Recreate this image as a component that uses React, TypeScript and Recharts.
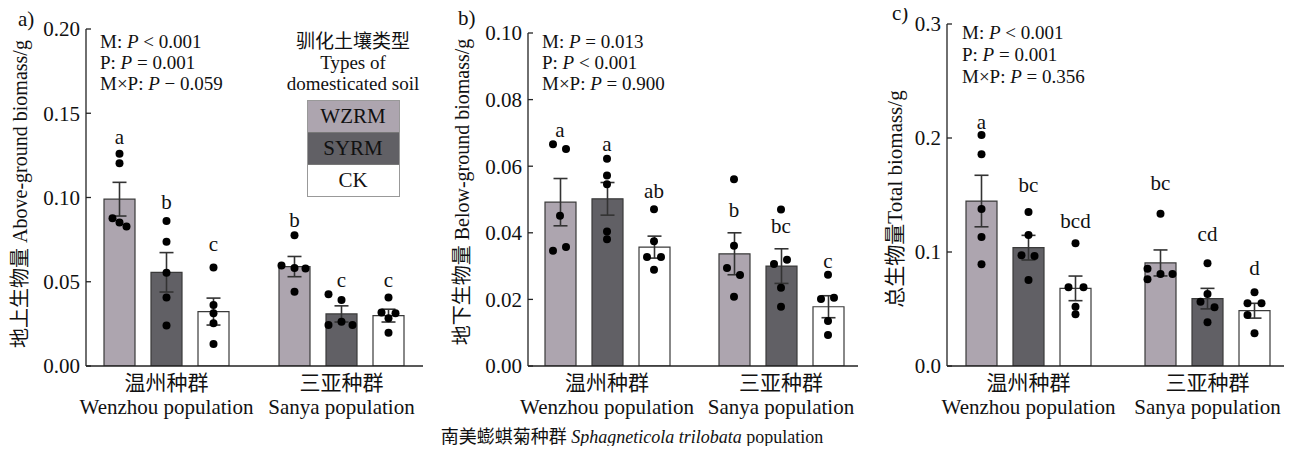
import React from "react";
import { ComposedChart, Bar, Scatter, ErrorBar, XAxis, YAxis } from "recharts";

const FONT = '"Liberation Serif", "Times New Roman", "Noto Sans CJK SC", serif';
const FS = 21;
const NOTE_FS = 19;

const POPULATIONS = ["温州种群", "三亚种群"];
const POPULATIONS_EN = ["Wenzhou population", "Sanya population"];
const SOILS = ["WZRM", "SYRM", "CK"];
const SOIL_COLORS = ["#ada5af", "#616065", "#ffffff"];

// a) above-ground biomass (g); rows = population, cols = WZRM, SYRM, CK
const aboveTicks = [0, 0.05, 0.1, 0.15, 0.2];
const aboveMean = [[0.099, 0.0556, 0.0323], [0.059, 0.0309, 0.0299]];
const aboveSE = [[0.01, 0.0117, 0.008], [0.006, 0.0048, 0.0038]];
const aboveDots = [
  [[0.1259, 0.1204, 0.0877, 0.0851, 0.0828], [0.0861, 0.0737, 0.0554, 0.0406, 0.024], [0.0584, 0.0362, 0.0313, 0.0253, 0.0131]],
  [[0.0776, 0.0596, 0.0582, 0.0578, 0.044], [0.0426, 0.0392, 0.0263, 0.0244, 0.0244], [0.0406, 0.0317, 0.0313, 0.0283, 0.0198]],
];
const aboveLetters = [["a", "b", "c"], ["b", "c", "c"]];
const aboveLetterAt = [[0.136, 0.0976, 0.0725], [0.0867, 0.0511, 0.0511]];

// b) below-ground biomass (g)
const belowTicks = [0, 0.02, 0.04, 0.06, 0.08, 0.1];
const belowMean = [[0.0492, 0.0502, 0.0357], [0.0337, 0.03, 0.0178]];
const belowSE = [[0.0071, 0.0049, 0.0033], [0.0063, 0.0052, 0.0033]];
const belowDots = [
  [[0.0666, 0.0652, 0.0451, 0.0357, 0.0346], [0.0622, 0.0572, 0.0546, 0.0404, 0.0381], [0.0471, 0.0375, 0.0327, 0.0327, 0.0289]],
  [[0.0561, 0.0361, 0.0294, 0.0273, 0.0208], [0.047, 0.0319, 0.0306, 0.0235, 0.0178], [0.0274, 0.0205, 0.0201, 0.0135, 0.0093]],
];
const belowLetters = [["a", "a", "ab"], ["b", "bc", "c"]];
const belowLetterAt = [[0.0709, 0.0666, 0.0527], [0.0467, 0.0419, 0.0314]];

// c) total biomass (g)
const totalTicks = [0, 0.1, 0.2, 0.3];
const totalMean = [[0.1447, 0.1038, 0.0681], [0.0904, 0.0591, 0.0485]];
const totalSE = [[0.0226, 0.0108, 0.0108], [0.0114, 0.009, 0.0065]];
const totalDots = [
  [[0.2026, 0.1857, 0.1377, 0.1132, 0.0892], [0.1351, 0.1149, 0.0971, 0.0965, 0.0754], [0.1076, 0.069, 0.069, 0.052, 0.0453]],
  [[0.1336, 0.0854, 0.0807, 0.0807, 0.076], [0.0901, 0.0632, 0.0564, 0.0515, 0.0383], [0.0646, 0.055, 0.055, 0.0447, 0.0287]],
];
const totalLetters = [["a", "bc", "bcd"], ["bc", "cd", "d"]];
const totalLetterAt = [[0.2143, 0.1588, 0.1275], [0.1608, 0.1155, 0.0863]];

// horizontal jitter of the individual points (px)
const aboveJitter = [
  [[0, 0, -7, 0, 7], [0, 0, 0, 0, 0], [0, 0, 0, 0, 0]],
  [[0, -13, 0, 11, 0], [-13, 0, 0, -13, 11], [0, -7, 7, 0, 0]],
];
const belowJitter = [
  [[-7, 6, 0, 6, -7], [0, 0, 0, 0, 0], [0, 0, -7, 7, 0]],
  [[0, 0, -7, 6, 0], [0, 6, -7, 0, 0], [0, 6, -7, 0, 0]],
];
const totalJitter = [
  [[0, 0, 0, 0, 0], [0, 0, -7, 6, 0], [0, -7, 8, 0, 0]],
  [[0, -13, 0, 12, -13], [0, 0, -7, 7, 0], [0, -7, 7, -7, 0]],
];

const BAR_SIZE = 31;
const BAR_GAP = 16;
const OFFSETS = [-(BAR_SIZE + BAR_GAP), 0, BAR_SIZE + BAR_GAP];

function buildRows(mean: number[][], se: number[][], dots: number[][][], letters: string[][], letterAt: number[][]) {
  return POPULATIONS.map((pop, r) => {
    const row: any = { pop, idx: r };
    SOILS.forEach((s, i) => {
      row[s] = mean[r][i];
      row[`${s}_se`] = se[r][i];
      row[`${s}_lab`] = letters[r][i];
      row[`${s}_at`] = letterAt[r][i];
      dots[r][i].forEach((v, k) => (row[`${s}_d${k}`] = v));
    });
    return row;
  });
}

const PopTick = (props: any) => {
  const { x, y, payload } = props;
  return (
    <g fontFamily={FONT} fontSize={FS} fill="#111">
      <text x={x} y={y + 24} textAnchor="middle" fill="#111">{payload.value}</text>
      <text x={x} y={y + 48} textAnchor="middle" fill="#111">{POPULATIONS_EN[payload.index]}</text>
    </g>
  );
};

interface PanelProps {
  left: number;
  width: number;
  plotLeft: number;
  plotTop: number;
  plotRight: number;
  pad: [number, number];
  ticks: number[];
  digits: number;
  yLabel: string;
  labelX: number;
  labelY: number;
  labelSize: number;
  rows: any[];
  jitter: number[][][];
}

function Panel(p: PanelProps) {
  const yMax = p.ticks[p.ticks.length - 1];
  return (
    <div style={{ position: "absolute", left: p.left, top: 0 }}>
      <ComposedChart
        width={p.width}
        height={454}
        data={p.rows}
        margin={{ top: p.plotTop, right: p.width - p.plotRight, bottom: 0, left: 0 }}
        barGap={BAR_GAP}
        style={{ fontFamily: FONT }}
      >
        <XAxis
          dataKey="pop"
          type="category"
          height={88}
          axisLine={{ stroke: "#222", strokeWidth: 1.3 }}
          tickLine={false}
          tickSize={0}
          tickMargin={0}
          interval={0}
          tick={<PopTick />}
          padding={{ left: p.pad[0], right: p.pad[1] }}
        />
        <YAxis
          width={p.plotLeft}
          domain={[0, yMax]}
          ticks={p.ticks}
          allowDataOverflow
          tickFormatter={(v: number) => v.toFixed(p.digits)}
          tickSize={-5}
          tickMargin={11}
          axisLine={{ stroke: "#222", strokeWidth: 1.3 }}
          tickLine={{ stroke: "#222", strokeWidth: 1.3 }}
          tick={{ fill: "#111", fontSize: FS, fontFamily: FONT }}
          label={{
            content: () => (
              <text
                transform={`translate(${p.labelX},${p.labelY}) rotate(-90)`}
                textAnchor="middle"
                dominantBaseline="central"
                fontSize={p.labelSize}
                fontFamily={FONT}
                fill="#111"
              >
                {p.yLabel}
              </text>
            ),
          }}
        />
        {SOILS.map((s, i) => (
          <Bar
            key={s}
            dataKey={s}
            fill={SOIL_COLORS[i]}
            stroke="#3a3a3a"
            strokeWidth={1.2}
            barSize={BAR_SIZE}
            isAnimationActive={false}
          >
            <ErrorBar dataKey={`${s}_se`} width={7} stroke="#333" strokeWidth={1.6} direction="y" />
          </Bar>
        ))}
        {SOILS.flatMap((s, i) =>
          [0, 1, 2, 3, 4].map((k) => (
            <Scatter
              key={`${s}_d${k}`}
              dataKey={`${s}_d${k}`}
              legendType="none"
              isAnimationActive={false}
              shape={(props: any) => (
                <circle
                  cx={props.cx + OFFSETS[i] + p.jitter[props.payload.idx][i][k]}
                  cy={props.cy}
                  r={4}
                  fill="#000"
                />
              )}
            />
          ))
        )}
        {SOILS.map((s, i) => (
          <Scatter
            key={`${s}_at`}
            dataKey={`${s}_at`}
            legendType="none"
            isAnimationActive={false}
            shape={(props: any) => (
              <text
                x={props.cx + OFFSETS[i]}
                y={props.cy}
                textAnchor="middle"
                dominantBaseline="central"
                fontSize={FS}
                fontFamily={FONT}
                fill="#111"
              >
                {props.payload[`${s}_lab`]}
              </text>
            )}
          />
        ))}
      </ComposedChart>
    </div>
  );
}

function Stats({ left, top, lh, lines }: { left: number; top: number; lh: number; lines: string[][] }) {
  return (
    <div style={{ position: "absolute", left, top, fontSize: NOTE_FS, lineHeight: `${lh}px`, whiteSpace: "nowrap", color: "#111" }}>
      {lines.map(([pre, rest]) => (
        <div key={pre}>
          {pre}
          <i>P</i> {rest}
        </div>
      ))}
    </div>
  );
}

const PanelTag = ({ left, top, text }: { left: number; top: number; text: string }) => (
  <div style={{ position: "absolute", left, top, fontSize: FS, lineHeight: "20px", color: "#111" }}>{text}</div>
);

function SoilLegend() {
  return (
    <div style={{ position: "absolute", left: 273, top: 31, width: 160, textAlign: "center", fontSize: NOTE_FS, color: "#111" }}>
      <div style={{ lineHeight: "21px" }}>驯化土壤类型</div>
      <div style={{ lineHeight: "21px" }}>Types of</div>
      <div style={{ lineHeight: "21px" }}>domesticated soil</div>
      <div style={{ width: 91, margin: "6px auto 0", border: "1px solid #999", fontSize: FS }}>
        {SOILS.map((s, i) => (
          <div key={s} style={{ height: 31, lineHeight: "31px", background: SOIL_COLORS[i], borderTop: i ? "1px solid #777" : "none" }}>
            {s}
          </div>
        ))}
      </div>
    </div>
  );
}

export default function App() {
  return (
    <div style={{ position: "relative", width: 1292, height: 454, margin: -8, fontFamily: FONT, background: "#fff", overflow: "hidden" }}>
      <Panel
        left={0}
        width={430}
        plotLeft={86}
        plotTop={29}
        plotRight={423}
        pad={[-7, -6]}
        ticks={aboveTicks}
        digits={2}
        yLabel="地上生物量 Above-ground biomass/g"
        labelX={20}
        labelY={194}
        labelSize={20}
        rows={buildRows(aboveMean, aboveSE, aboveDots, aboveLetters, aboveLetterAt)}
        jitter={aboveJitter}
      />
      <Panel
        left={430}
        width={430}
        plotLeft={98}
        plotTop={33}
        plotRight={428}
        pad={[-8, -10]}
        ticks={belowTicks}
        digits={2}
        yLabel="地下生物量 Below-ground biomass/g"
        labelX={32}
        labelY={192}
        labelSize={20}
        rows={buildRows(belowMean, belowSE, belowDots, belowLetters, belowLetterAt)}
        jitter={belowJitter}
      />
      <Panel
        left={860}
        width={432}
        plotLeft={87}
        plotTop={24}
        plotRight={427}
        pad={[-8, -10]}
        ticks={totalTicks}
        digits={1}
        yLabel="总生物量Total biomass/g"
        labelX={35}
        labelY={199}
        labelSize={FS}
        rows={buildRows(totalMean, totalSE, totalDots, totalLetters, totalLetterAt)}
        jitter={totalJitter}
      />
      <PanelTag left={18} top={9} text="a)" />
      <PanelTag left={458} top={8} text="b)" />
      <PanelTag left={892} top={3} text="c)" />
      <Stats left={100} top={31} lh={21} lines={[["M: ", "< 0.001"], ["P: ", "= 0.001"], ["M×P: ", "− 0.059"]]} />
      <Stats left={542} top={31} lh={21} lines={[["M: ", "= 0.013"], ["P: ", "< 0.001"], ["M×P: ", "= 0.900"]]} />
      <Stats left={962} top={22} lh={22} lines={[["M: ", "< 0.001"], ["P: ", "= 0.001"], ["M×P: ", "= 0.356"]]} />
      <SoilLegend />
      <div style={{ position: "absolute", left: 632, top: 426, transform: "translateX(-50%)", fontSize: 18, lineHeight: "22px", whiteSpace: "nowrap", color: "#111" }}>
        南美蟛蜞菊种群 <i>Sphagneticola trilobata</i> population
      </div>
    </div>
  );
}
